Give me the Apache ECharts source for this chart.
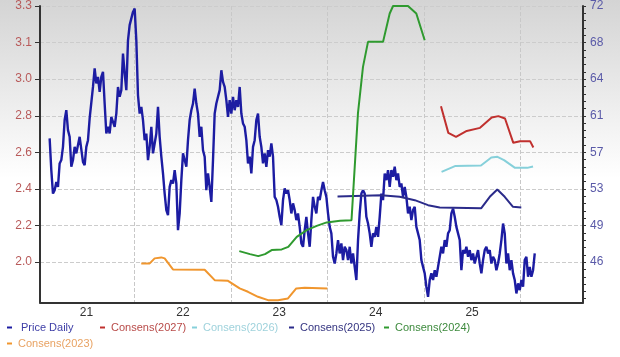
<!DOCTYPE html>
<html><head><meta charset="utf-8">
<script src="https://cdn.jsdelivr.net/npm/echarts@6/dist/echarts.min.js"></script>
<style>html,body{margin:0;padding:0;background:#fff}#c{width:620px;height:357px}</style>
</head><body><div id="c"></div>
<script>
// ---- data ----
const xTickLabels = ['21', '22', '23', '24', '25'];
const xLabelYears = [2021.5, 2022.5, 2023.5, 2024.5, 2025.5];
const xGridYears = [2022, 2023, 2024, 2025, 2026];
const leftTickLabels = ['2.0', '2.2', '2.4', '2.6', '2.8', '3.0', '3.1', '3.3'];
const rightTickLabels = ['46', '49', '53', '57', '61', '64', '68', '72'];

const priceStartYear = 2021.118;
const priceStepYears = 0.01729;
const priceDaily = [
  2.628,2.467,2.348,2.365,2.407,2.382,2.501,2.518,2.585,2.721,2.771,2.670,2.636,2.484,2.518,2.585,2.552,2.552,2.636,2.644,
  2.509,2.492,2.585,2.619,2.729,2.737,2.889,2.983,2.907,2.940,2.864,2.940,2.966,2.805,2.653,2.687,2.653,2.737,2.746,2.687,
  2.754,2.889,2.839,2.873,3.059,2.958,2.873,3.126,3.203,3.194,3.270,3.287,3.126,2.847,
  2.754,2.788,2.721,2.619,2.653,2.518,2.585,2.687,2.552,2.602,2.653,2.788,2.636,2.535,2.450,2.348,2.264,2.238,2.382,2.416,
  2.399,2.467,2.399,2.162,2.247,2.416,2.552,2.518,2.484,2.619,2.721,2.771,2.805,2.881,2.805,2.754,2.636,2.687,2.568,2.535,
  2.365,2.450,2.382,2.306,2.518,2.754,2.805,2.839,2.873,2.974,2.915,2.889,2.822,2.737,2.822,2.754,2.839,2.771,2.822,2.788,
  2.889,2.754,2.704,2.687,2.619,2.501,2.535,2.450,2.585,2.619,2.721,2.754,2.636,2.585,2.501,2.552,2.484,2.568,2.535,2.602,
  2.535,2.331,2.315,2.281,2.230,2.188,2.315,2.374,2.348,2.365,2.315,2.247,2.298,2.264,2.213,2.247,2.179,2.095,2.078,2.162,
  2.230,2.146,2.078,2.213,2.331,2.281,2.247,2.331,2.315,2.365,2.407,2.365,2.331,2.247,2.179,2.146,2.027,1.993,2.044,2.112,
  2.044,2.095,2.010,2.078,2.061,2.010,2.078,1.993,2.044,1.976,1.909,2.112,2.247,2.348,2.365,2.348,2.230,2.196,2.146,2.078,
  2.146,2.128,2.179,2.128,2.230,2.348,2.315,2.450,2.416,2.467,2.382,2.467,2.433,2.484,2.416,2.450,2.382,2.399,2.331,2.382,
  2.331,2.247,2.281,2.213,2.264,2.281,2.179,2.146,2.112,2.010,1.976,1.943,1.875,1.824,1.909,1.943,1.909,1.959,1.926,1.976,
  1.976,2.078,2.044,2.112,2.078,2.146,2.162,2.247,2.272,2.230,2.179,2.146,2.112,1.959,2.061,2.044,2.078,2.027,2.061,2.010,
  2.044,1.993,2.027,2.061,1.993,1.943,2.010,2.061,2.078,2.044,2.061,1.993,2.027,2.010,1.959,1.993,2.044,2.112,2.196,2.146,
  1.993,2.044,1.959,2.010,1.943,1.909,1.841,1.892,1.858,1.909,1.875,2.010,2.027,1.926,1.976,1.926,1.959,2.044
];

const consens2027 = [[2025.177,61.83],[2025.253,59.12],[2025.333,58.72],[2025.444,59.32],[2025.582,59.63],[2025.703,60.68],
  [2025.772,60.82],[2025.841,60.58],[2025.927,58.11],[2025.997,58.28],[2026.101,58.28],[2026.135,57.64]];
const consens2026 = [[2025.183,55.16],[2025.328,55.77],[2025.592,55.81],[2025.699,56.62],[2025.763,56.69],[2025.831,56.35],
  [2025.945,55.57],[2026.072,55.57],[2026.132,55.71]];
const consens2025 = [[2024.104,52.67],[2024.558,52.80],[2024.749,52.63],[2024.905,52.29],[2025.043,51.78],[2025.164,51.55],
  [2025.595,51.48],[2025.683,52.63],[2025.761,53.38],[2025.838,52.63],[2025.924,51.61],[2026.010,51.55]];
const consens2024 = [[2023.085,47.12],[2023.196,46.81],[2023.282,46.61],[2023.352,46.81],[2023.421,47.22],[2023.525,47.29],
  [2023.593,47.55],[2023.681,48.57],[2023.784,49.25],[2023.888,49.68],[2023.992,50.03],[2024.130,50.19],[2024.249,50.26],
  [2024.316,61.12],[2024.368,65.82],[2024.420,68.36],[2024.576,68.36],[2024.645,71.24],[2024.680,72.00],[2024.835,72.00],
  [2024.921,71.24],[2025.008,68.53]];
const consens2023 = [[2022.068,45.87],[2022.156,45.87],[2022.207,46.38],[2022.276,46.48],[2022.311,46.38],[2022.397,45.26],
  [2022.726,45.22],[2022.830,44.17],[2022.968,44.10],[2023.089,43.33],[2023.175,42.99],[2023.279,42.48],[2023.383,42.14],
  [2023.487,42.14],[2023.590,42.31],[2023.676,43.33],[2023.763,43.39],[2023.998,43.33]];

// ---- scales ----
const r6 = v => Math.round(v * 1e6) / 1e6;
const lLo = parseFloat(leftTickLabels[0]), lHi = parseFloat(leftTickLabels[leftTickLabels.length - 1]);
const lStep = (lHi - lLo) / (leftTickLabels.length - 1);
const leftTickValues = leftTickLabels.map((s, i) => r6(lLo + i * lStep));
const rLo = parseFloat(rightTickLabels[0]), rHi = parseFloat(rightTickLabels[rightTickLabels.length - 1]);
const rStep = (rHi - rLo) / (rightTickLabels.length - 1);
const rightTickValues = rightTickLabels.map((s, i) => r6(rLo + i * rStep));
const belowTicks = 1.1035;
const leftMin = r6(lLo - belowTicks * lStep), leftMax = lHi;
const rightMin = r6(rLo - belowTicks * rStep), rightMax = rHi;
const rightMinorTicks = [];
for (let v = rightMax; v >= rightMin - 1e-9; v -= rStep / 5) rightMinorTicks.push(r6(v));

function lookup(vals, labels) {
  return v => { for (let i = 0; i < vals.length; i++) if (Math.abs(vals[i] - v) < 1e-4) return labels[i]; return ''; };
}

const priceSeries = priceDaily.map((v, i) => [r6(priceStartYear + i * priceStepYears), v]);

const FONT = 'Liberation Sans';
const colors = {
  price: '#1c1ca2', c27: '#c0302e', c26: '#86d0da', c25: '#2b2b8a', c24: '#2f9a2f', c23: '#f0962e'
};
const legendText = {
  'Price Daily': '#3d3da6', 'Consens(2027)': '#b84a48', 'Consens(2026)': '#9fd2dc',
  'Consens(2025)': '#343480', 'Consens(2024)': '#3d8a3d', 'Consens(2023)': '#e8a262'
};
function leg(name, left, top) {
  return {
    data: [{ name: name, textStyle: { color: legendText[name] } }],
    left: left, top: top, padding: 0, icon: 'rect', itemWidth: 5, itemHeight: 2,
    textStyle: { fontFamily: FONT, fontSize: 11, padding: [0, 0, 0, name === 'Price Daily' ? 4 : 1] },
    selectedMode: false
  };
}

const chart = echarts.init(document.getElementById('c'), null, { renderer: 'canvas' });
chart.setOption({
  animation: false,
  backgroundColor: new echarts.graphic.LinearGradient(0, 0, 0, 1, [
    { offset: 0, color: '#d4d4d4' }, { offset: 0.5, color: '#ffffff' }, { offset: 1, color: '#ffffff' }
  ]),
  grid: { left: 40, right: 37, top: 5, bottom: 54.5, containLabel: false },
  legend: [
    leg('Price Daily', 7, 322), leg('Consens(2027)', 100, 322), leg('Consens(2026)', 192, 322),
    leg('Consens(2025)', 289, 322), leg('Consens(2024)', 384, 322), leg('Consens(2023)', 7, 338)
  ],
  xAxis: {
    type: 'value', min: 2021.018, max: 2026.65,
    axisLine: { show: true, onZero: false, lineStyle: { color: '#333', width: 2 } },
    axisTick: { show: false, customValues: xGridYears },
    axisLabel: { customValues: xLabelYears, formatter: lookup(xLabelYears, xTickLabels), color: '#333', fontFamily: FONT, fontSize: 12, margin: 4 },
    splitLine: { show: true, lineStyle: { type: 'dashed', color: '#c8c8c8', width: 1 } }
  },
  yAxis: [
    {
      type: 'value', position: 'left', min: leftMin, max: leftMax,
      axisLine: { show: true, lineStyle: { color: '#333', width: 2 } },
      axisTick: { show: true, length: 5, customValues: leftTickValues, lineStyle: { color: '#333', width: 1 } },
      axisLabel: { customValues: leftTickValues, formatter: lookup(leftTickValues, leftTickLabels), color: '#b85a5a', fontFamily: FONT, fontSize: 12, margin: 8 },
      splitLine: { show: true, lineStyle: { type: 'dashed', color: '#cccccc', width: 1 } }
    },
    {
      type: 'value', position: 'right', min: rightMin, max: rightMax,
      axisLine: { show: true, lineStyle: { color: '#333', width: 2 } },
      axisTick: { show: true, length: 3, customValues: rightMinorTicks, lineStyle: { color: '#333', width: 1 } },
      axisLabel: { customValues: rightTickValues, formatter: lookup(rightTickValues, rightTickLabels), color: '#5a5aa8', fontFamily: FONT, fontSize: 12, margin: 7 },
      splitLine: { show: false }
    }
  ],
  series: [
    { name: 'Price Daily', type: 'line', yAxisIndex: 0, data: priceSeries, showSymbol: false, symbol: 'none',
      lineStyle: { width: 2.4, color: colors.price }, itemStyle: { color: colors.price }, z: 2 },
    { name: 'Consens(2027)', type: 'line', yAxisIndex: 1, data: consens2027, showSymbol: false, symbol: 'none',
      lineStyle: { width: 2, color: colors.c27 }, itemStyle: { color: colors.c27 }, z: 3 },
    { name: 'Consens(2026)', type: 'line', yAxisIndex: 1, data: consens2026, showSymbol: false, symbol: 'none',
      lineStyle: { width: 2, color: colors.c26 }, itemStyle: { color: colors.c26 }, z: 3 },
    { name: 'Consens(2025)', type: 'line', yAxisIndex: 1, data: consens2025, showSymbol: false, symbol: 'none',
      lineStyle: { width: 2, color: colors.c25 }, itemStyle: { color: colors.c25 }, z: 3 },
    { name: 'Consens(2024)', type: 'line', yAxisIndex: 1, data: consens2024, showSymbol: false, symbol: 'none',
      lineStyle: { width: 2, color: colors.c24 }, itemStyle: { color: colors.c24 }, z: 3 },
    { name: 'Consens(2023)', type: 'line', yAxisIndex: 1, data: consens2023, showSymbol: false, symbol: 'none',
      lineStyle: { width: 2, color: colors.c23 }, itemStyle: { color: colors.c23 }, z: 3 }
  ]
});
</script></body></html>
